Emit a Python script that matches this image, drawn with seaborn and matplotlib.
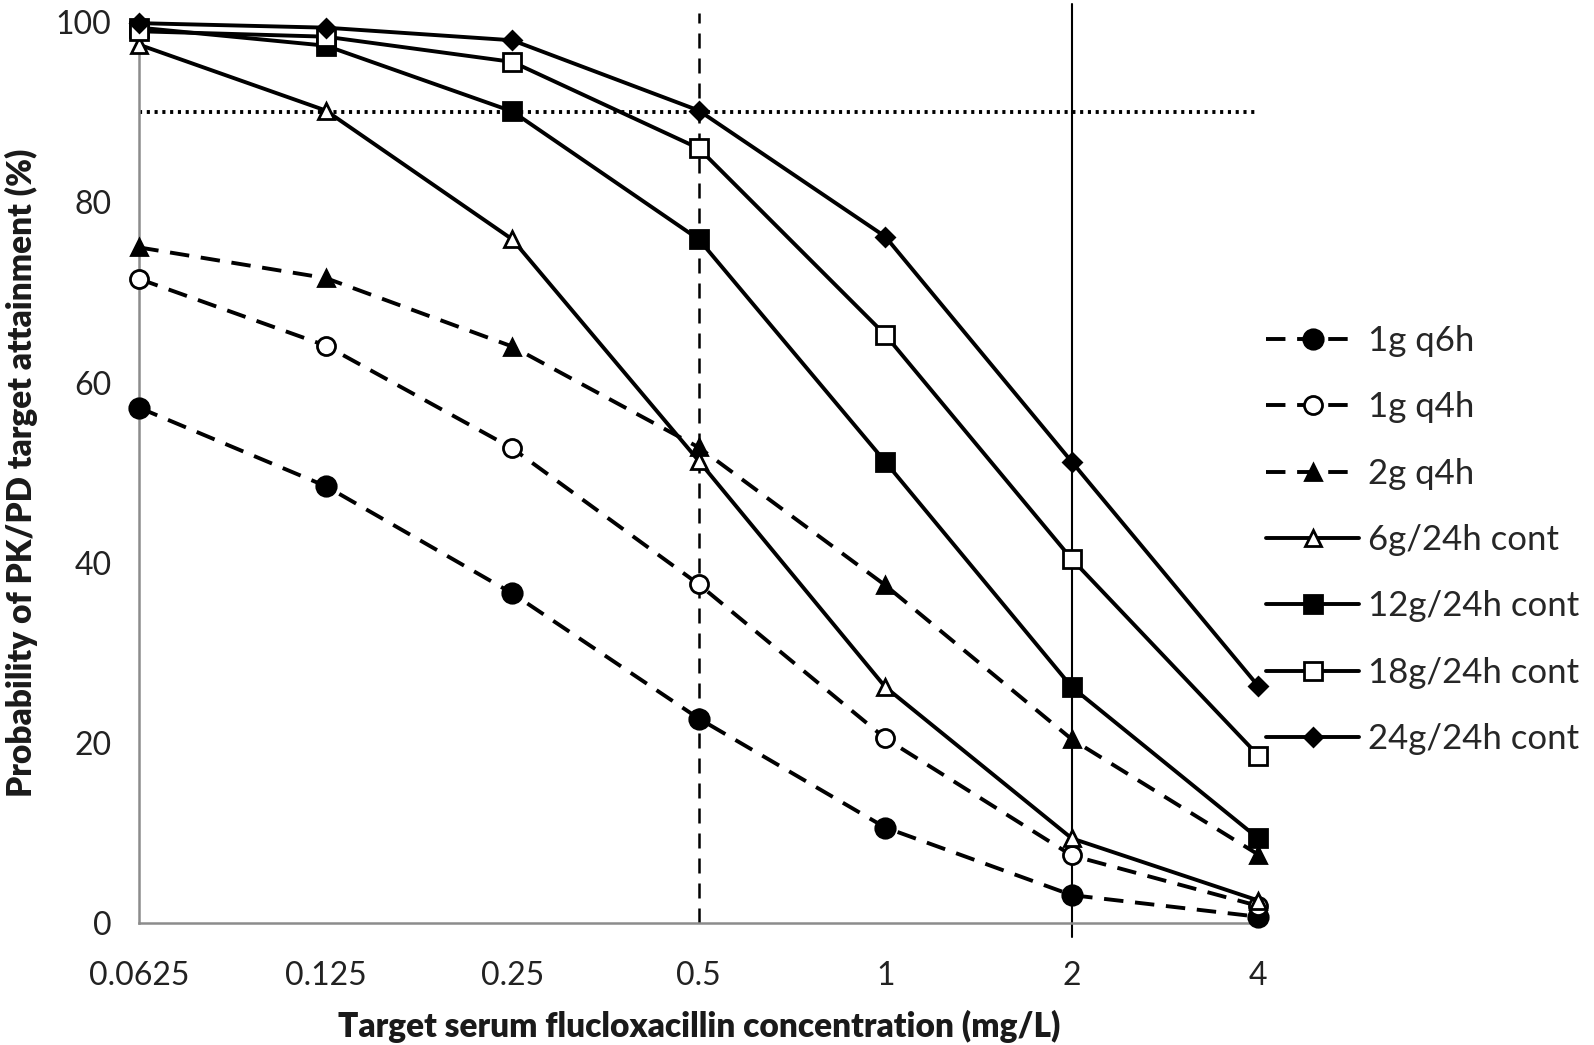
import matplotlib
matplotlib.use('Agg')
import matplotlib.pyplot as plt
import seaborn as sns
import numpy as np

# categories (x axis, equally spaced)
concentrations = ['0.0625', '0.125', '0.25', '0.5', '1', '2', '4']

# probability of target attainment (%) per regimen
q6h_1g = [57.2, 48.5, 36.6, 22.7, 10.6, 3.1, 0.7]
q4h_1g = [71.5, 64.1, 52.7, 37.6, 20.5, 7.5, 1.9]
q4h_2g = [75.0, 71.6, 64.0, 52.8, 37.5, 20.4, 7.6]
cont_6g = [97.5, 90.2, 75.9, 51.3, 26.2, 9.4, 2.5]
cont_12g = [99.4, 97.4, 90.1, 75.9, 51.2, 26.2, 9.4]
cont_18g = [99.0, 98.4, 95.6, 86.0, 65.3, 40.4, 18.6]
cont_24g = [99.9, 99.4, 98.0, 90.2, 76.2, 51.2, 26.3]

labels = ['1g q6h', '1g q4h', '2g q4h', '6g/24h cont', '12g/24h cont',
          '18g/24h cont', '24g/24h cont']
series = [q6h_1g, q4h_1g, q4h_2g, cont_6g, cont_12g, cont_18g, cont_24g]

# (marker, face colour, marker size, dashed?)
styles = [
    ('o', 'black', 14, True),
    ('o', 'white', 13, True),
    ('^', 'black', 12, True),
    ('^', 'white', 12, False),
    ('s', 'black', 13, False),
    ('s', 'white', 13, False),
    ('D', 'black', 9, False),
]

target_line = 90       # horizontal reference
breakpoint_dash = '0.5'
breakpoint_solid = '2'

sns.set_style('white')
plt.rcParams['font.family'] = ['Lato', 'DejaVu Sans']

fig = plt.figure(figsize=(15.94, 10.45), dpi=100)
ax = fig.add_axes([0.0874, 0.1167, 0.702, 0.862])

x = np.arange(len(concentrations))

# reference lines
ax.axhline(target_line, xmin=0, xmax=1, color='black', lw=2.8,
           ls=(0, (0.8, 1.2)), zorder=1)
ax.axvline(concentrations.index(breakpoint_dash), ymin=0, ymax=1.01,
           color='black', lw=1.8, ls=(0, (6, 4)), zorder=1, clip_on=False)
ax.axvline(concentrations.index(breakpoint_solid), ymin=-0.015, ymax=1.02,
           color='black', lw=1.5, zorder=1, clip_on=False)

for vals, lab, (mk, fc, ms, dashed) in zip(series, labels, styles):
    sns.lineplot(x=x, y=vals, ax=ax, color='black', lw=2.8,
                 linestyle=(0, (5, 3)) if dashed else '-',
                 marker=mk, markersize=ms, markerfacecolor=fc,
                 markeredgecolor='black', markeredgewidth=2.0,
                 label=lab, zorder=3, clip_on=False)

ax.set_xlim(0, len(concentrations) - 1)
ax.set_ylim(0, 100)
ax.set_xticks(x)
ax.set_xticklabels(concentrations)
ax.set_yticks(range(0, 101, 20))

for side in ['top', 'right']:
    ax.spines[side].set_visible(False)
for side in ['left', 'bottom']:
    ax.spines[side].set_color('#8c8c8c')
    ax.spines[side].set_linewidth(1.8)
ax.tick_params(axis='both', colors='#8c8c8c', width=1.8, length=9,
               direction='out', labelcolor='#222222', labelsize=23)
ax.tick_params(axis='x', pad=18)
ax.tick_params(axis='y', pad=11)

ax.set_xlabel('Target serum flucloxacillin concentration (mg/L)',
              fontsize=24, fontweight='heavy', labelpad=14, color='#1a1a1a')
ax.set_ylabel('Probability of PK/PD target attainment (%)',
              fontsize=24, fontweight='heavy', labelpad=13, color='#1a1a1a')

ax.legend(loc='upper left', bbox_to_anchor=(0.794, 0.689),
          bbox_transform=fig.transFigure, frameon=False, fontsize=25,
          handlelength=2.7, handletextpad=0.25, labelspacing=0.99,
          borderaxespad=0, borderpad=0)

fig.savefig('out.png', dpi=100)
